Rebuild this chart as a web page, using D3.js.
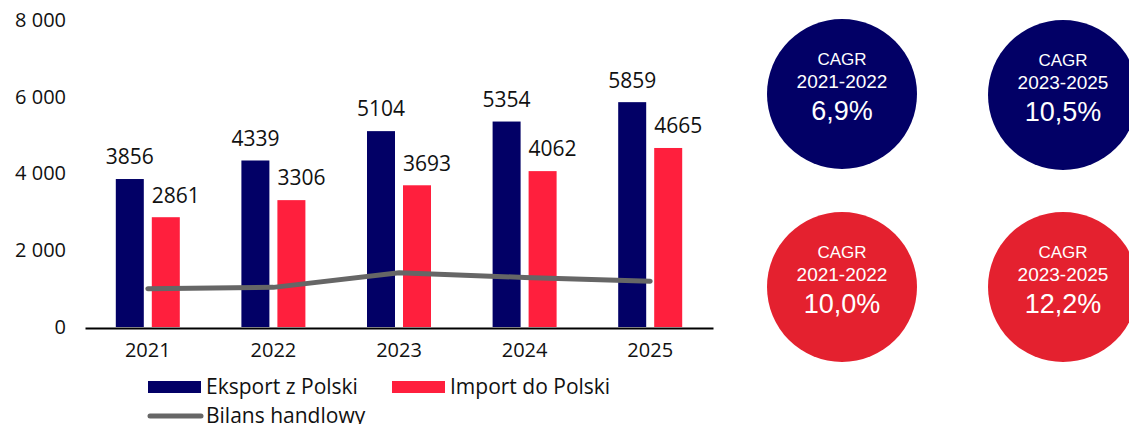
<!DOCTYPE html>
<html>
<head>
<meta charset="utf-8">
<script src="https://cdn.jsdelivr.net/npm/d3@7"></script>
<style>
  body { margin: 0; background: #fff; }
  svg { display: block; }
</style>
</head>
<body>
<svg id="chart" width="1129" height="424"></svg>
<script>
const years = ['2021', '2022', '2023', '2024', '2025'];
const exportValues = [3856, 4339, 5104, 5354, 5859];
const importValues = [2861, 3306, 3693, 4062, 4665];
const balanceValues = [995, 1033, 1411, 1292, 1194];
const yTicks = [0, 2000, 4000, 6000, 8000];
const seriesNames = ['Eksport z Polski', 'Import do Polski', 'Bilans handlowy'];

// CAGR circles
const cagrPeriods = ['2021-2022', '2023-2025', '2021-2022', '2023-2025'];
const cagrValues = ['6,9%', '10,5%', '10,0%', '12,2%'];

const NAVY = '#020066';
const RED = '#ff1f3d';
const CIRCLE_RED = '#e4212f';
const GREY = '#666666';
const FONT = '"Open Sans", "Liberation Sans", sans-serif';
const CIRCLE_FONT = '"Liberation Sans", Arial, sans-serif';

const svg = d3.select('#chart');

const x = d3.scaleBand().domain(years).range([85, 713]);
const y = d3.scaleLinear().domain([0, 8000]).range([327, 20]);

const fmt = d3.formatLocale({ decimal: ',', thousands: ' ', grouping: [3], currency: ['', ''] }).format(',d');

// y axis labels (no line)
const yAxis = svg.append('g')
  .attr('transform', 'translate(66,0)')
  .call(d3.axisLeft(y).tickValues(yTicks).tickFormat(fmt).tickSize(0).tickPadding(0));
yAxis.select('.domain').remove();
yAxis.selectAll('text')
  .style('font-family', FONT)
  .style('font-size', '20px')
  .attr('fill', '#111');

// x axis
const xAxis = svg.append('g')
  .attr('transform', 'translate(0,328)')
  .call(d3.axisBottom(x).tickSize(0).tickPadding(15));
xAxis.select('.domain').attr('stroke', '#000').attr('stroke-width', 2);
xAxis.selectAll('text')
  .style('font-family', FONT)
  .style('font-size', '20px')
  .attr('fill', '#111');

const barW = 28, gap = 8;
const cx = d => x(d) + x.bandwidth() / 2;

const rows = years.map((yr, i) => ({ yr, exp: exportValues[i], imp: importValues[i], bal: balanceValues[i] }));

// export bars
svg.append('g').selectAll('rect')
  .data(rows).enter().append('rect')
  .attr('x', d => cx(d.yr) - gap / 2 - barW)
  .attr('width', barW)
  .attr('y', d => y(d.exp))
  .attr('height', d => y(0) - y(d.exp))
  .attr('fill', NAVY);

// import bars
svg.append('g').selectAll('rect')
  .data(rows).enter().append('rect')
  .attr('x', d => cx(d.yr) + gap / 2)
  .attr('width', barW)
  .attr('y', d => y(d.imp))
  .attr('height', d => y(0) - y(d.imp))
  .attr('fill', RED);

// balance line
const line = d3.line().x(d => cx(d.yr)).y(d => y(d.bal));
svg.append('path')
  .datum(rows)
  .attr('d', line)
  .attr('fill', 'none')
  .attr('stroke', GREY)
  .attr('stroke-width', 5)
  .attr('stroke-linecap', 'round');

// value labels
svg.append('g').selectAll('text')
  .data(rows).enter().append('text')
  .attr('x', d => cx(d.yr) - gap / 2 - barW / 2)
  .attr('y', d => y(d.exp) - 22)
  .attr('dy', '0.35em')
  .attr('text-anchor', 'middle')
  .style('font-family', FONT)
  .style('font-size', '21px')
  .attr('fill', '#111')
  .text(d => d.exp);

svg.append('g').selectAll('text')
  .data(rows).enter().append('text')
  .attr('x', d => cx(d.yr) + gap / 2 + barW / 2 + 10)
  .attr('y', d => y(d.imp) - 22)
  .attr('dy', '0.35em')
  .attr('text-anchor', 'middle')
  .style('font-family', FONT)
  .style('font-size', '21px')
  .attr('fill', '#111')
  .text(d => d.imp);

// legend
const legend = svg.append('g').style('font-family', FONT).style('font-size', '21px').attr('fill', '#111');
legend.append('rect').attr('x', 148).attr('y', 381).attr('width', 53).attr('height', 12).attr('fill', NAVY);
legend.append('text').attr('x', 206).attr('y', 387).attr('dy', '0.35em').text(seriesNames[0]);
legend.append('rect').attr('x', 392).attr('y', 381).attr('width', 53).attr('height', 12).attr('fill', RED);
legend.append('text').attr('x', 450).attr('y', 387).attr('dy', '0.35em').text(seriesNames[1]);
legend.append('line').attr('x1', 150).attr('x2', 201).attr('y1', 416).attr('y2', 416)
  .attr('stroke', GREY).attr('stroke-width', 5).attr('stroke-linecap', 'round');
legend.append('text').attr('x', 206).attr('y', 416).attr('dy', '0.35em').text(seriesNames[2]);

// CAGR circles
const circleCx = [842, 1063, 842, 1063];
const circleCy = [94, 95, 287, 287];
const circleFill = [NAVY, NAVY, CIRCLE_RED, CIRCLE_RED];
const circles = svg.append('g').selectAll('g')
  .data(cagrValues.map((v, i) => ({ v, p: cagrPeriods[i], i })))
  .enter().append('g')
  .attr('transform', d => `translate(${circleCx[d.i]},${circleCy[d.i]})`);
circles.append('circle').attr('r', 75).attr('fill', d => circleFill[d.i]);
circles.append('text').attr('y', -35).attr('dy', '0.35em').text('CAGR')
  .attr('text-anchor', 'middle').attr('fill', '#fff')
  .style('font-family', CIRCLE_FONT).style('font-size', '17px');
circles.append('text').attr('y', -13).attr('dy', '0.35em').text(d => d.p)
  .attr('text-anchor', 'middle').attr('fill', '#fff')
  .style('font-family', CIRCLE_FONT).style('font-size', '19px');
circles.append('text').attr('y', 17).attr('dy', '0.35em').text(d => d.v)
  .attr('text-anchor', 'middle').attr('fill', '#fff')
  .style('font-family', CIRCLE_FONT).style('font-size', '27px');
</script>
</body>
</html>
